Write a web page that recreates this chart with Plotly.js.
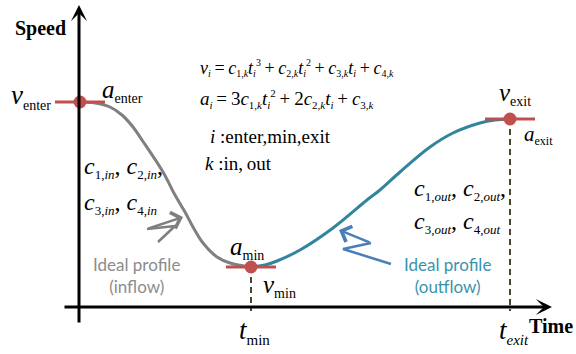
<!DOCTYPE html>
<html>
<head>
<meta charset="utf-8">
<script src="https://cdn.plot.ly/plotly-3.0.1.min.js"></script>
<style>
  html, body { margin: 0; padding: 0; background: #fff; }
  #chart { width: 576px; height: 354px; }
</style>
</head>
<body>
<div id="chart"></div>
<script>
// Speed profile through a junction: a cubic inflow segment (enter -> min)
// joined to a cubic outflow segment (min -> exit).

// Key points of the profile: enter, min, exit
const keyNames = ['enter', 'min', 'exit'];
const keyTime = [0, 171, 430];
const keySpeed = [205, 40, 188];

// Inflow profile samples
const inflowTime  = [0, 15, 30, 42, 53, 62, 83, 95, 105, 113, 123, 137, 150, 171];
const inflowSpeed = [205, 204, 200, 192, 180, 167, 135, 112, 95, 80, 64, 50, 44, 40];

// Outflow profile samples
const outflowTime  = [171, 185, 197, 220, 253, 287, 300, 320, 350, 373, 400, 415, 430];
const outflowSpeed = [40, 42, 46, 57, 79, 107, 117, 135, 160, 174, 184, 187, 188];

// Pointer arrows beside each segment (polyline, last point is the tip)
const inPointerTime   = [78, 95, 67, 103];
const inPointerSpeed  = [65, 81, 78, 90];
const outPointerTime  = [311, 263, 291, 259];
const outPointerSpeed = [43, 58, 64, 77];

const SERIF = 'Liberation Serif';
const SANS = 'Lato';
const COL = {
  inflow: '#808080',
  outflow: '#31859c',
  point: '#c0504d',
  guide: '#4a4431',
  pointerIn: '#7f7f7f',
  pointerOut: '#4a7ebb',
  labelIn: '#8c8c8c',
  labelOut: '#3a93ac'
};
const TANGENT_HALF = 25;   // half length of the slope marks
const AXIS_FLOOR = -4;     // where the drop lines stop

// slope marks at each key point
const tanX = [], tanY = [];
keyTime.forEach((t, i) => {
  tanX.push(t - TANGENT_HALF, t + TANGENT_HALF, null);
  tanY.push(keySpeed[i], keySpeed[i], null);
});

// dashed drop lines for min and exit
const dropX = [], dropY = [];
[1, 2].forEach(i => {
  dropX.push(keyTime[i], keyTime[i], null);
  dropY.push(keySpeed[i], AXIS_FLOOR, null);
});

const traces = [
  { x: dropX, y: dropY, mode: 'lines', hoverinfo: 'skip',
    line: { color: COL.guide, width: 2, dash: '6px,4px' } },
  { x: inflowTime, y: inflowSpeed, mode: 'lines', hoverinfo: 'skip',
    line: { color: COL.inflow, width: 3, shape: 'spline', smoothing: 1 } },
  { x: outflowTime, y: outflowSpeed, mode: 'lines', hoverinfo: 'skip',
    line: { color: COL.outflow, width: 3, shape: 'spline', smoothing: 1 } },
  { x: tanX, y: tanY, mode: 'lines', hoverinfo: 'skip',
    line: { color: COL.point, width: 3 } },
  { x: keyTime, y: keySpeed, mode: 'markers', hoverinfo: 'skip',
    marker: { color: COL.point, size: 13 } },
  { x: inPointerTime.slice(0, 3), y: inPointerSpeed.slice(0, 3), mode: 'lines', hoverinfo: 'skip',
    line: { color: COL.pointerIn, width: 2.5 } },
  { x: outPointerTime.slice(0, 3), y: outPointerSpeed.slice(0, 3), mode: 'lines', hoverinfo: 'skip',
    line: { color: COL.pointerOut, width: 2.5 } }
];

// text helpers
const small = (s, px) => `<span style="font-size:${px}px">${s}</span>`;
const sb = (s, px) => `<sub>${small(s, px)}</sub>`;
const sp = (s, px) => `<sup>${small(s, px)}</sup>`;
const I = s => `<i>${s}</i>`;

function label(x, y, text, size, extra) {
  return Object.assign({
    x, y, xref: 'x', yref: 'y', text, showarrow: false,
    xanchor: 'left', yanchor: 'middle',
    font: { family: SERIF, size, color: '#000' }
  }, extra || {});
}

function arrow(x0, y0, x1, y1, color, width, head, size) {
  return {
    x: x1, y: y1, ax: x0, ay: y0,
    xref: 'x', yref: 'y', axref: 'x', ayref: 'y',
    text: '', showarrow: true, arrowhead: head, arrowsize: size,
    arrowwidth: width, arrowcolor: color, standoff: 0, startstandoff: 0
  };
}

const T = '\u2009';
const eq1 = `${I('v')}${sb(I('i'), 10)}${T}=${T}${I('c')}${sb('1,' + I('k'), 10)}${I('t')}${sb(I('i'), 10)}${sp('3', 10)}${T}+${T}` +
            `${I('c')}${sb('2,' + I('k'), 10)}${I('t')}${sb(I('i'), 10)}${sp('2', 10)}${T}+${T}` +
            `${I('c')}${sb('3,' + I('k'), 10)}${I('t')}${sb(I('i'), 10)}${T}+${T}${I('c')}${sb('4,' + I('k'), 10)}`;
const eq2 = `${I('a')}${sb(I('i'), 11)}${T}=${T}3${I('c')}${sb('1,' + I('k'), 11)}${I('t')}${sb(I('i'), 11)}${sp('2', 11)}${T}+${T}` +
            `2${I('c')}${sb('2,' + I('k'), 11)}${I('t')}${sb(I('i'), 11)}${T}+${T}${I('c')}${sb('3,' + I('k'), 11)}`;
const eq3 = `${I('i')} :enter,min,exit`;
const eq4 = `${I('k')} :in,${T}out`;

const coefIn1 = `${I('c')}${sb('1,' + I('in'), 13)}, ${I('c')}${sb('2,' + I('in'), 13)},`;
const coefIn2 = `${I('c')}${sb('3,' + I('in'), 13)}, ${I('c')}${sb('4,' + I('in'), 13)}`;
const coefOut1 = `${I('c')}${sb('1,' + I('out'), 13)}, ${I('c')}${sb('2,' + I('out'), 13)},`;
const coefOut2 = `${I('c')}${sb('3,' + I('out'), 13)}, ${I('c')}${sb('4,' + I('out'), 13)}`;

const annotations = [
  // axes with arrow heads
  arrow(-1, -17, -1, 302, '#000', 3, 3, 0.9),
  arrow(-17, 0, 472, 0, '#000', 3, 3, 0.9),
  label(-40, 279, '<b>Speed</b>', 20, { xanchor: 'center' }),
  label(471, -19, '<b>Time</b>', 20, { xanchor: 'center' }),

  // key point labels
  label(keyTime[0], keySpeed[0], I('v') + sb('enter', 14), 27, { xanchor: 'right', xshift: -27, yshift: 6 }),
  label(keyTime[0], keySpeed[0], I('a') + sb('enter', 14), 25, { xshift: 20, yshift: 11 }),
  label(keyTime[1], keySpeed[1], I('a') + sb('min', 14), 25, { xshift: -23, yshift: 19 }),
  label(keyTime[1], keySpeed[1], I('v') + sb('min', 14), 25, { xshift: 10, yshift: -19 }),
  label(keyTime[2], keySpeed[2], I('v') + sb('exit', 14), 25, { xshift: -13, yshift: 25 }),
  label(keyTime[2], keySpeed[2], I('a') + sb('exit', 12), 21, { xshift: 12, yshift: -16 }),
  label(keyTime[1], 0, I('t') + sb('min', 15), 27, { xshift: -14, yshift: -24 }),
  label(keyTime[2], 0, I('t') + sb(I('exit'), 15), 27, { xshift: -13, yshift: -24 }),

  // model equations
  label(118, 239, eq1, 18),
  label(118, 208, eq2, 19),
  label(128, 171, eq3, 19),
  label(123, 144, eq4, 19),

  // coefficients
  label(2, 140, coefIn1, 24),
  label(2, 104, coefIn2, 24),
  label(332, 118, coefOut1, 24),
  label(332, 85, coefOut2, 24),

  // profile captions
  label(56, 32, 'Ideal profile<br>(inflow)', 17,
        { xanchor: 'center', align: 'center', font: { family: SANS, size: 17, color: COL.labelIn } }),
  label(367, 32, 'Ideal profile<br>(outflow)', 17,
        { xanchor: 'center', align: 'center', font: { family: SANS, size: 17, color: COL.labelOut } }),

  // pointer heads
  arrow(inPointerTime[2], inPointerSpeed[2], inPointerTime[3], inPointerSpeed[3], COL.pointerIn, 2.5, 4, 1.3),
  arrow(outPointerTime[2], outPointerSpeed[2], outPointerTime[3], outPointerSpeed[3], COL.pointerOut, 2.5, 4, 1.3)
];

const layout = {
  width: 576, height: 354,
  margin: { l: 0, r: 0, t: 0, b: 0, pad: 0 },
  font: { family: SERIF, color: '#000' },
  paper_bgcolor: '#fff', plot_bgcolor: '#fff',
  showlegend: false,
  xaxis: { range: [-80, 496], visible: false, fixedrange: true },
  yaxis: { range: [-47, 307], visible: false, fixedrange: true },
  annotations
};

Plotly.newPlot('chart', traces, layout, { staticPlot: true, displayModeBar: false });
</script>
</body>
</html>
